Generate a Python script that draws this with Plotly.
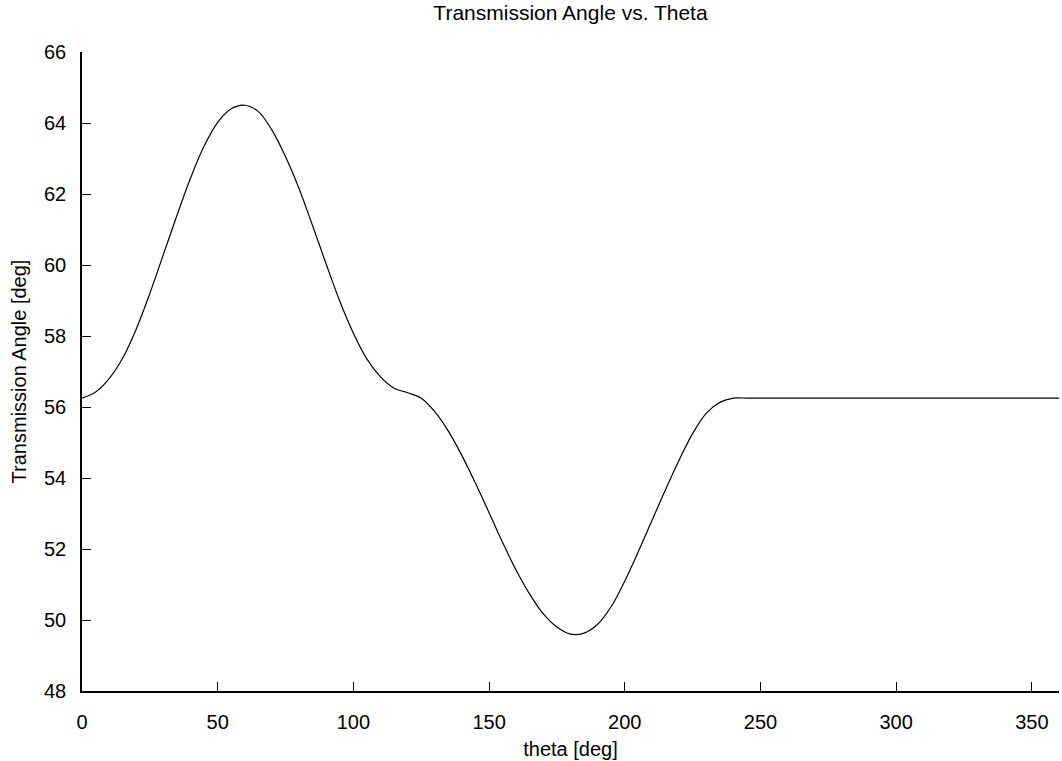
import plotly.graph_objects as go

# theta [deg] and transmission angle [deg]
theta = [0, 5, 10, 15, 20, 25, 30, 35, 40, 45, 50, 55, 60, 65, 70, 75, 80, 85, 90,
         95, 100, 105, 110, 115, 120, 125, 130, 135, 140, 145, 150, 155, 160, 165,
         170, 175, 180, 185, 190, 195, 200, 205, 210, 215, 220, 225, 230, 235, 240,
         245, 250, 300, 350, 360]
trans_angle = [56.25, 56.42, 56.8, 57.38, 58.2, 59.2, 60.3, 61.4, 62.45, 63.35,
               64.02, 64.4, 64.5, 64.32, 63.8, 63.05, 62.15, 61.1, 60.02, 58.98, 58.08,
               57.35, 56.85, 56.53, 56.4, 56.25, 55.87, 55.32, 54.63, 53.85, 53.02,
               52.18, 51.4, 50.72, 50.17, 49.8, 49.6, 49.63, 49.88, 50.38, 51.1,
               51.93, 52.8, 53.67, 54.5, 55.25, 55.82, 56.13, 56.25,
               56.25, 56.25, 56.25, 56.25, 56.25]

x_ticks = [0, 50, 100, 150, 200, 250, 300, 350]
y_ticks = [48, 50, 52, 54, 56, 58, 60, 62, 64, 66]

font_family = "Liberation Sans, Arial, sans-serif"

fig = go.Figure(go.Scatter(
    x=theta,
    y=trans_angle,
    mode="lines",
    line=dict(color="black", width=1.2, shape="spline", smoothing=1.0),
    showlegend=False,
))

axis_style = dict(
    showline=True, linecolor="black", linewidth=1.5,
    ticks="inside", ticklen=9, tickwidth=1.2, tickcolor="black",
    showgrid=False, zeroline=False, mirror=False,
    tickfont=dict(family=font_family, size=20, color="black"),
)

fig.update_layout(
    width=1062, height=761,
    margin=dict(l=82, r=3, t=52, b=70),
    paper_bgcolor="white", plot_bgcolor="white",
    font=dict(family=font_family, size=20, color="black"),
    title=dict(text="Transmission Angle vs. Theta", x=0.5, xref="paper",
               y=1 - 13 / 761, yref="container", yanchor="middle",
               font=dict(family=font_family, size=21, color="black")),
    xaxis=dict(range=[0, 360], tickvals=x_ticks, ticklabelstandoff=12,
               title=dict(text="theta [deg]", standoff=10,
                          font=dict(family=font_family, size=20)),
               **axis_style),
    yaxis=dict(range=[48, 66], tickvals=y_ticks, ticklabelstandoff=10,
               title=dict(text="Transmission Angle [deg]", standoff=12,
                          font=dict(family=font_family, size=20)),
               **axis_style),
)

# drop the default page margin so the figure sits at the window's corner
fig.write_html("out.html",
               config={"displayModeBar": False},
               post_script="document.body.style.margin='0';"
                           "document.body.style.overflow='hidden';")
